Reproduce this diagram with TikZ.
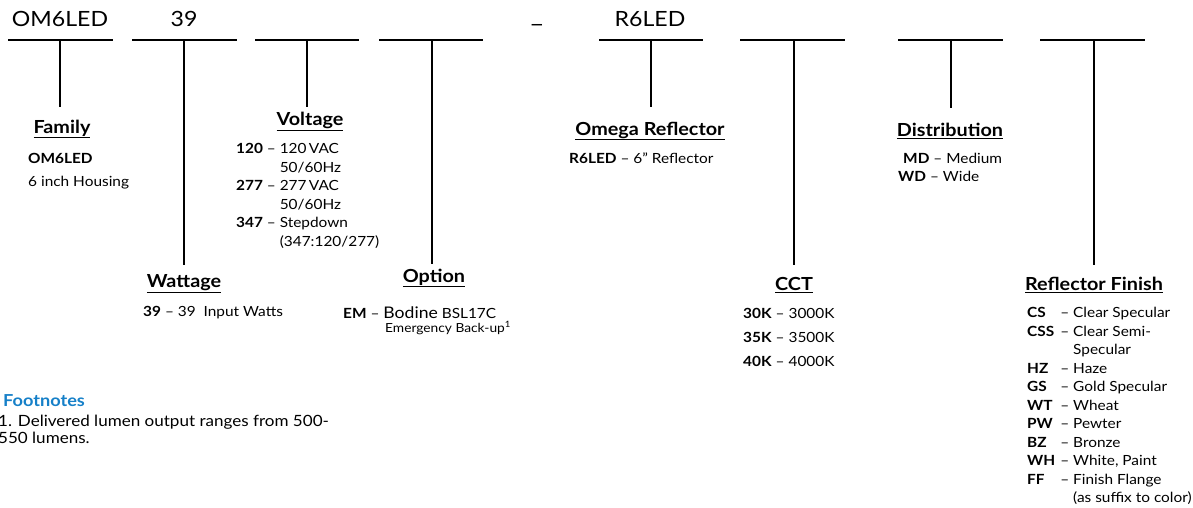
\documentclass[tikz,border=0pt]{standalone}
\usepackage{fontspec}
\setmainfont{Lato}[FakeStretch=1.1]
\usepackage{xcolor}
\usepackage{tikz}
\usetikzlibrary{positioning}

\definecolor{noteblue}{RGB}{22,128,200}
\newcommand{\fin}[2]{\makebox[46pt][l]{\textbf{#1}\hfill--\hspace{4pt}}#2}

\tikzset{
  blank/.style={line width=1.3pt},
  stem/.style={line width=1.1pt},
  part/.style={font=\fontsize{21}{26}\selectfont, inner sep=0pt},
  heading/.style={font=\fontsize{18}{20}\bfseries\selectfont, inner sep=0pt},
  entry/.style={anchor=west, align=left, inner sep=0pt, font=\fontsize{14}{18.5}\selectfont},
}

\begin{document}
\begin{tikzpicture}[x=1pt, y=-1pt]
    \useasboundingbox (0,0) rectangle (1193,508);
    % blanks of the ordering code
    \coordinate (s1) at (60,40);   \coordinate (e1) at (60,107);
    \coordinate (s2) at (184,40);  \coordinate (e2) at (184,265);
    \coordinate (s3) at (307,40);  \coordinate (e3) at (307,107);
    \coordinate (s4) at (432,40);  \coordinate (e4) at (432,264);
    \coordinate (s5) at (651,40);  \coordinate (e5) at (651,107);
    \coordinate (s6) at (794,40);  \coordinate (e6) at (794,265);
    \coordinate (s7) at (951,40);  \coordinate (e7) at (951,108);
    \coordinate (s8) at (1094,40); \coordinate (e8) at (1094,265);
    \draw[blank] (8,40) -- (113,40);
    \draw[blank] (132,40) -- (237,40);
    \draw[blank] (255,40) -- (359,40);
    \draw[blank] (379,40) -- (483,40);
    \draw[blank] (599,40) -- (703,40);
    \draw[blank] (740,40) -- (845,40);
    \draw[blank] (898,40) -- (1003,40);
    \draw[blank] (1040,40) -- (1145,40);
    \draw[stem] (s1) -- (e1);
    \draw[stem] (s2) -- (e2);
    \draw[stem] (s3) -- (e3);
    \draw[stem] (s4) -- (e4);
    \draw[stem] (s5) -- (e5);
    \draw[stem] (s6) -- (e6);
    \draw[stem] (s7) -- (e7);
    \draw[stem] (s8) -- (e8);
    \node[part] (fam) at (60,19) {OM6LED};
    \node[part] (watt) at (184,19) {39};
    \node[part, font=\fontsize{24}{26}\selectfont] (sep) at (537,24) {\_};
    \node[part] (refl) at (650,19) {R6LED};

    % family
    \node[heading] (famh) at (62,129) {\underline{Family}};
    \node[entry] (famt) at (28,171) {\textbf{OM6LED}\\[5pt]6 inch Housing};

    % voltage
    \node[heading] (volth) at (310,121) {\underline{Voltage}};
    \node[entry] (voltt) at (236,196) {\textbf{120} -- 120\,VAC\\
      \phantom{\textbf{120} -- }50/60Hz\\
      \textbf{277} -- 277\,VAC\\
      \phantom{\textbf{277} -- }50/60Hz\\
      \textbf{347} -- Stepdown\\
      \phantom{\textbf{347} -- }(347:120/277)};

    % wattage
    \node[heading] (watth) at (184,284) {\underline{Wattage}};
    \node[entry] (wattt) at (143,313) {\textbf{39} -- 39\ \ Input Watts};

    % option
    \node[heading] (opth) at (434,278) {\underline{Option}};
    \node[entry] (optt) at (343,313) {\textbf{EM} -- {\fontsize{16}{18}\selectfont Bodine} BSL17C};
    \node[entry, font=\fontsize{12.5}{14}\selectfont] (optn) at (385,328) {Emergency Back-up\textsuperscript{1}};

    % omega reflector
    \node[heading] (omh) at (650,131) {\underline{Omega Reflector}};
    \node[entry] (omt) at (569,158) {\textbf{R6LED} -- 6" Reflector};

    % distribution
    \node[heading] (disth) at (950,131) {\underline{Distribution}};
    \node[entry] (distt) at (898,167.5) {\hspace*{5pt}\textbf{MD} -- Medium\\\textbf{WD} -- Wide};

    % cct
    \node[heading] (ccth) at (794,285) {\underline{CCT}};
    \node[entry, font=\fontsize{14}{24}\selectfont] (cctt) at (743,337) {\textbf{30K} -- 3000K\\\textbf{35K} -- 3500K\\\textbf{40K} -- 4000K};

    % reflector finish
    \node[heading] (finh) at (1094,285) {\underline{Reflector Finish}};
    \node[entry] (fint) at (1027,406) {\fin{CS}{Clear Specular}\\
      \fin{CSS}{Clear Semi-}\\
      \hspace*{46pt}Specular\\
      \fin{HZ}{Haze}\\
      \fin{GS}{Gold Specular}\\
      \fin{WT}{Wheat}\\
      \fin{PW}{Pewter}\\
      \fin{BZ}{Bronze}\\
      \fin{WH}{White, Paint}\\
      \fin{FF}{Finish Flange}\\
      \hspace*{46pt}(as suffix to color)};

    % footnotes
    \node[entry, font=\fontsize{16.5}{17}\bfseries\selectfont, text=noteblue] (noteh) at (3,401) {Footnotes};
    \node[entry, font=\fontsize{15.5}{17}\selectfont] (notet) at (-2,429) {1. Delivered lumen output ranges from 500-\\550 lumens.};
\end{tikzpicture}
\end{document}
